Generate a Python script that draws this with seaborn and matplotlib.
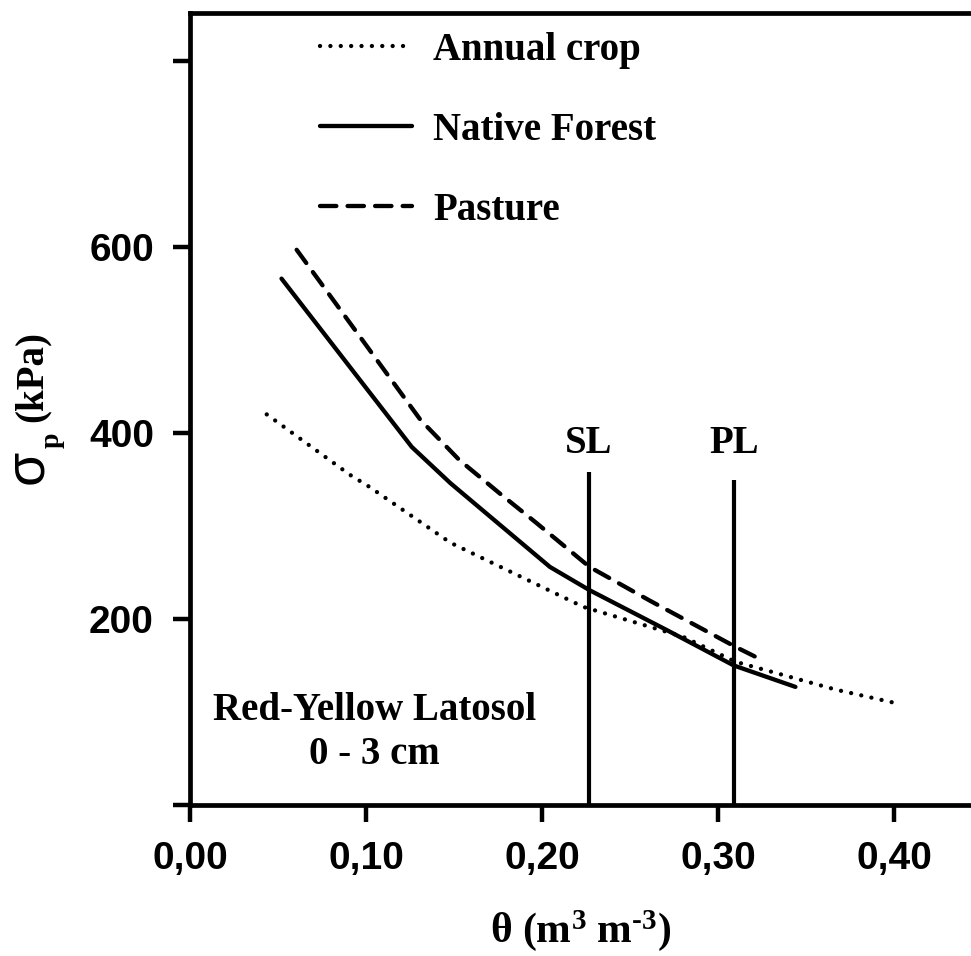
import matplotlib
matplotlib.use("Agg")
import matplotlib.pyplot as plt
import seaborn as sns
import pandas as pd

sns.set_theme(style="white")
plt.rcParams['font.family'] = ['Liberation Serif', 'DejaVu Serif']
plt.rcParams['mathtext.fontset'] = 'custom'
plt.rcParams['mathtext.rm'] = 'Liberation Serif:bold'
plt.rcParams['mathtext.it'] = 'Liberation Serif:bold'
plt.rcParams['mathtext.bf'] = 'Liberation Serif:bold'
plt.rcParams['mathtext.default'] = 'rm'
for k in ['text.color', 'axes.labelcolor', 'xtick.color', 'ytick.color', 'axes.edgecolor']:
    plt.rcParams[k] = 'black'

# ---- data ----
crop_x = [0.0436, 0.0909, 0.102, 0.148, 0.2235, 0.28, 0.31, 0.367, 0.400]
crop_y = [420, 355, 342, 282, 213, 181, 154, 124, 110]

forest_x = [0.052, 0.126, 0.148, 0.2045, 0.227, 0.271, 0.309, 0.344]
forest_y = [566, 385, 346, 256, 231, 188, 150, 127]

pasture_x = [0.0606, 0.131, 0.153, 0.176, 0.197, 0.227, 0.261, 0.310, 0.3227]
pasture_y = [597, 414, 371, 335, 303, 256, 220, 170, 158]

limit_names = ["SL", "PL"]
limit_x = [0.2266, 0.309]
limit_top = [358, 350]

series_names = ["Annual crop", "Native Forest", "Pasture"]
x_ticks = [0.0, 0.1, 0.2, 0.3, 0.4]
x_ticklabels = ["0,00", "0,10", "0,20", "0,30", "0,40"]
y_ticks = [0, 200, 400, 600, 800]
y_ticklabels = ["", "200", "400", "600", ""]

W, H = 971, 956
fig = plt.figure(figsize=(W / 100, H / 100), dpi=100)
ax = fig.add_axes([190 / W, 1 - 805 / H, 1 - 190 / W, (805 - 13) / H])

lw = 3.1
df_crop = pd.DataFrame({"x": crop_x, "y": crop_y})
df_forest = pd.DataFrame({"x": forest_x, "y": forest_y})
df_pasture = pd.DataFrame({"x": pasture_x, "y": pasture_y})

sns.lineplot(data=df_crop, x="x", y="y", ax=ax, color="black", linewidth=lw,
             linestyle=(0, (0.01, 2.4)), dash_capstyle="round",
             label=series_names[0], sort=False)
sns.lineplot(data=df_forest, x="x", y="y", ax=ax, color="black", linewidth=lw,
             label=series_names[1], sort=False, solid_capstyle="round",
             solid_joinstyle="round")
sns.lineplot(data=df_pasture, x="x", y="y", ax=ax, color="black", linewidth=lw,
             linestyle=(0, (3.8, 2.6)), dash_capstyle="round",
             label=series_names[2], sort=False)

ax.vlines(limit_x, [0, 0], limit_top, color="black", linewidth=3.0)
for name, xv in zip(limit_names, limit_x):
    ax.text(xv, 389, name, ha="center", va="center",
            fontsize=28, fontweight="bold", family="Liberation Serif")

ax.text(0.105, 102, "Red-Yellow Latosol", ha="center", va="center",
        fontsize=28, fontweight="bold", family="Liberation Serif")
ax.text(0.105, 54, "0 - 3 cm", ha="center", va="center",
        fontsize=28, fontweight="bold", family="Liberation Serif")

ax.set_xlim(0, (W - 190) / 1760)
ax.set_ylim(0, (805 - 13) / 0.93)

ax.set_xticks(x_ticks)
ax.set_xticklabels(x_ticklabels)
ax.set_yticks(y_ticks)
ax.set_yticklabels(y_ticklabels)
for lab in ax.get_xticklabels() + ax.get_yticklabels():
    lab.set_fontfamily("Liberation Sans")
    lab.set_fontweight("bold")
    lab.set_fontsize(28)
ax.tick_params(axis="both", direction="out", length=12, width=3.2, color="black",
               bottom=True, left=True)
ax.tick_params(axis="x", pad=14)
ax.tick_params(axis="y", pad=14)

for side in ["left", "bottom", "top"]:
    ax.spines[side].set_linewidth(3.4)
    ax.spines[side].set_color("black")
ax.spines["right"].set_visible(False)

ax.set_xlabel(r"θ (m$^{3}$ m$^{\text{-}3}$)", fontsize=30, fontweight="bold",
              family="Liberation Serif", labelpad=22)
ax.set_ylabel("")

# y-axis label pieces
fig.text(28 / W, 1 - 467 / H, "σ", rotation=90, ha="center", va="center",
         fontsize=40, family="Liberation Sans")
fig.text(52 / W, 1 - 440 / H, "p", rotation=90, ha="center", va="center",
         fontsize=20, fontweight="bold", family="Liberation Serif")
fig.text(32 / W, 1 - 377 / H, "(kPa)", rotation=90, ha="center", va="center",
         fontsize=28, fontweight="bold", family="Liberation Serif")

leg = ax.legend(loc="upper left", bbox_to_anchor=(320 / W, 1 - 32 / H),
                bbox_transform=fig.transFigure, frameon=False,
                handlelength=2.37, handletextpad=0.54, labelspacing=1.1,
                borderpad=0, borderaxespad=0,
                prop={"family": "Liberation Serif", "weight": "bold", "size": 28})
for t in leg.get_texts():
    t.set_color("black")

fig.savefig("out.png", dpi=100, facecolor="white")
